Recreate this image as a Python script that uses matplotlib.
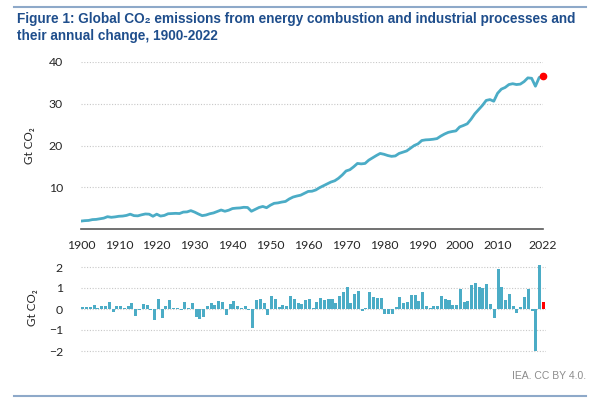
import matplotlib
matplotlib.use("Agg")
import matplotlib.pyplot as plt
from matplotlib.lines import Line2D

# ---- data ----
years = list(range(1900, 2023))

emissions = [
    1.90, 2.00, 2.05, 2.25, 2.30, 2.45, 2.60, 2.95, 2.80, 2.90,   # 1900s
    3.05, 3.10, 3.25, 3.55, 3.20, 3.15, 3.40, 3.60, 3.55, 3.05,   # 1910s
    3.55, 3.10, 3.25, 3.65, 3.70, 3.75, 3.70, 4.05, 4.10, 4.40,   # 1920s
    4.05, 3.60, 3.20, 3.35, 3.65, 3.85, 4.20, 4.55, 4.25, 4.50,   # 1930s
    4.90, 5.00, 5.05, 5.20, 5.15, 4.25, 4.70, 5.15, 5.40, 5.10,   # 1940s
    5.70, 6.15, 6.25, 6.45, 6.60, 7.20, 7.65, 7.90, 8.10, 8.55,   # 1950s
    9.00, 9.05, 9.35, 9.90, 10.35, 10.80, 11.25, 11.55, 12.15, 12.95,  # 1960s
    13.90, 14.20, 14.90, 15.70, 15.60, 15.70, 16.50, 17.05, 17.60, 18.10,  # 1970s
    17.90, 17.60, 17.40, 17.50, 18.10, 18.40, 18.70, 19.35, 20.00, 20.40,  # 1980s
    21.20, 21.35, 21.40, 21.50, 21.65, 22.25, 22.75, 23.15, 23.35, 23.50,  # 1990s
    24.45, 24.80, 25.20, 26.30, 27.60, 28.60, 29.60, 30.80, 31.00, 30.60,  # 2000s
    32.50, 33.50, 33.90, 34.60, 34.80, 34.60, 34.70, 35.30, 36.20, 36.10,  # 2010s
    34.20, 36.30, 36.70,                                           # 2020-2022
]

change = [
    0.10, 0.08, 0.08, 0.20, 0.03, 0.15, 0.15, 0.35, -0.15, 0.12,
    0.15, 0.05, 0.15, 0.28, -0.35, -0.05, 0.25, 0.20, -0.05, -0.50,
    0.50, -0.45, 0.15, 0.42, 0.03, 0.05, -0.03, 0.33, 0.03, 0.30,
    -0.37, -0.48, -0.40, 0.16, 0.30, 0.20, 0.37, 0.33, -0.30, 0.24,
    0.40, 0.13, 0.06, 0.16, -0.05, -0.92, 0.43, 0.46, 0.27, -0.30,
    0.62, 0.46, 0.08, 0.18, 0.15, 0.62, 0.46, 0.27, 0.22, 0.43,
    0.48, 0.05, 0.32, 0.54, 0.45, 0.46, 0.46, 0.30, 0.62, 0.80,
    1.04, 0.27, 0.70, 0.86, -0.08, 0.06, 0.83, 0.57, 0.54, 0.54,
    -0.24, -0.26, -0.24, 0.11, 0.59, 0.27, 0.33, 0.65, 0.67, 0.40,
    0.80, 0.14, 0.03, 0.13, 0.13, 0.62, 0.48, 0.43, 0.18, 0.18,
    0.97, 0.35, 0.38, 1.13, 1.26, 1.04, 1.02, 1.18, 0.24, -0.45,
    1.91, 1.04, 0.41, 0.70, 0.13, -0.18, 0.10, 0.56, 0.94, -0.08,
    -1.99, 2.09, 0.32,
]

xtick_pos = [1900, 1910, 1920, 1930, 1940, 1950, 1960, 1970, 1980, 1990, 2000, 2010, 2022]
top_yticks = [10, 20, 30, 40]
bot_yticks = [-2, -1, 0, 1, 2]

title = ("Figure 1: Global CO\u2082 emissions from energy combustion and industrial processes and\n"
         "their annual change, 1900-2022")

teal = "#4BACC6"
red = "#FF0000"
grid_col = "#C8C8C8"
text_col = "#262626"
fonts = ["Lato", "DejaVu Sans"]

W, H = 600, 412
fig = plt.figure(figsize=(W / 100, H / 100), dpi=100)


def box(x0, y0, x1, y1):
    # pixel box (top-left origin) -> figure fraction
    return [x0 / W, 1 - y1 / H, (x1 - x0) / W, (y1 - y0) / H]


# rules at top and bottom
fig.add_artist(Line2D([14 / W, 586 / W], [1 - 7 / H, 1 - 7 / H], color="#8EA9C9", lw=1.5))
fig.add_artist(Line2D([14 / W, 586 / W], [1 - 396 / H, 1 - 396 / H], color="#8EA9C9", lw=1.5))

fig.text(17 / W, 1 - 12 / H, title, ha="left", va="top", fontsize=9.8,
         fontweight="bold", color="#1F4E8C", family=["Liberation Sans", "DejaVu Sans"],
         linespacing=1.3)

# ---- top panel ----
ax1 = fig.add_axes(box(81, 62, 543, 229))
ax1.plot(years, emissions, color=teal, lw=2.0, solid_capstyle="round", zorder=3)
ax1.plot([years[-1]], [emissions[-1]], "o", color=red, ms=4.5, zorder=4, clip_on=False)
ax1.set_xlim(1900, 2022)
ax1.set_ylim(0, 40)
ax1.set_yticks(top_yticks)
ax1.set_xticks(xtick_pos)
ax1.yaxis.grid(True, color=grid_col, ls=(0, (1, 1.5)), lw=0.8)
ax1.set_axisbelow(True)
for s in ["top", "right", "left"]:
    ax1.spines[s].set_visible(False)
ax1.spines["bottom"].set_color("#595959")
ax1.spines["bottom"].set_linewidth(1.2)
ax1.tick_params(length=0, labelsize=8.8, colors=text_col, pad=13)
ax1.tick_params(axis="x", pad=8)
ax1.set_ylabel("Gt CO\u2082", fontsize=8.5, color=text_col, family=fonts, labelpad=10)
for lab in ax1.get_xticklabels() + ax1.get_yticklabels():
    lab.set_family(fonts)

# ---- bottom panel ----
ax2 = fig.add_axes(box(81, 262.8, 546, 353.1))
cols = [teal] * (len(years) - 1) + [red]
ax2.bar(years, change, width=0.8, color=cols, zorder=3)
ax2.set_xlim(1899.5, 2022.7)
ax2.set_ylim(-2.1, 2.2)
ax2.set_yticks(bot_yticks)
ax2.set_xticks([])
ax2.yaxis.grid(True, color=grid_col, ls=(0, (1, 1.5)), lw=0.8)
ax2.set_axisbelow(True)
for s in ax2.spines.values():
    s.set_visible(False)
ax2.tick_params(length=0, labelsize=8.8, colors=text_col, pad=13)
ax2.set_ylabel("Gt CO\u2082", fontsize=8.5, color=text_col, family=fonts, labelpad=8)
for lab in ax2.get_yticklabels():
    lab.set_family(fonts)

fig.text(586 / W, 1 - 376 / H, "IEA. CC BY 4.0.", ha="right", va="center",
         fontsize=7.5, color="#8C8C8C", family=["Liberation Sans", "DejaVu Sans"])

fig.savefig("out.png", dpi=100)
